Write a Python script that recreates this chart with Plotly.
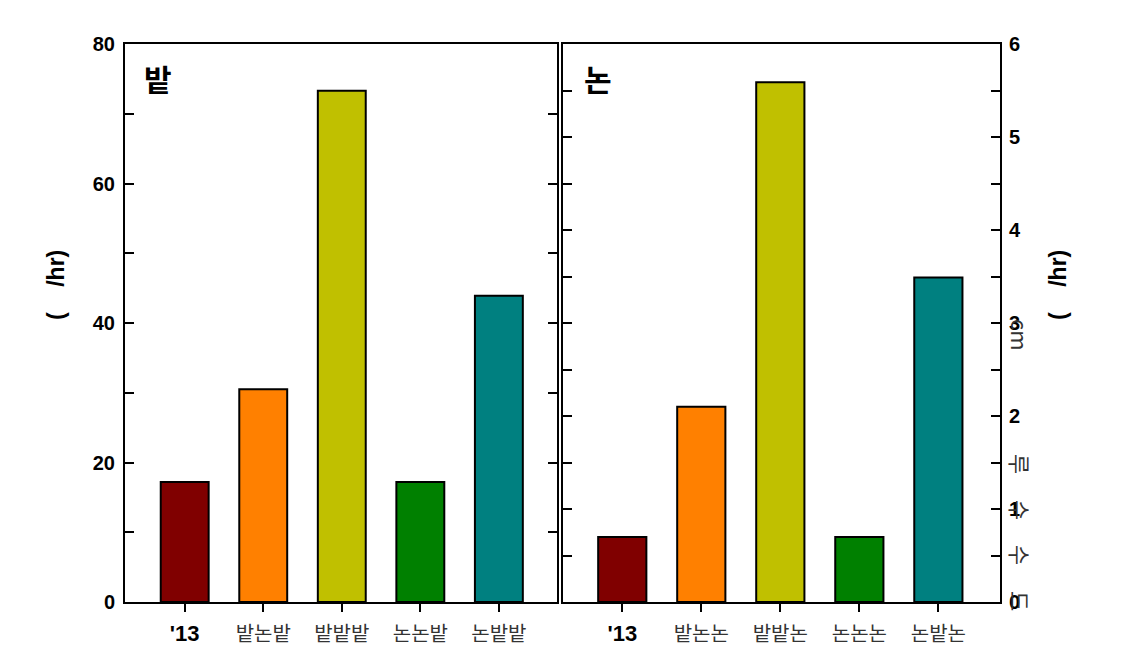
import plotly.graph_objects as go

# ---- data ----
cats_left = ["'13", "밭논밭", "밭밭밭", "논논밭", "논밭밭"]
vals_left = [17.2, 30.5, 73.3, 17.2, 43.9]
cats_right = ["'13", "밭논논", "밭밭논", "논논논", "논밭논"]
vals_right = [0.70, 2.10, 5.59, 0.70, 3.49]
bar_colors = ["#800000", "#FF8000", "#C0C000", "#008000", "#008080"]
panel_titles = ["밭", "논"]
y_title = "(\u00a0\u00a0\u00a0\u00a0/hr)"


def fmt_ticks(cats):
    out = []
    for c in cats:
        if c.startswith("'"):
            out.append('<b><span style="font-size:22px">' + c + "</span></b>")
        else:
            out.append('<span style="color:#333333">' + c + "</span>")
    return out


W, H = 1125, 657
def px(x):
    return x / W
def py(y):
    return (H - y) / H

fig = go.Figure()
fig.add_trace(go.Bar(x=list(range(len(cats_left))), y=vals_left, width=0.61,
                     marker=dict(color=bar_colors, line=dict(color="black", width=2)),
                     xaxis="x", yaxis="y", showlegend=False))
fig.add_trace(go.Bar(x=list(range(len(cats_right))), y=vals_right, width=0.61,
                     marker=dict(color=bar_colors, line=dict(color="black", width=2)),
                     xaxis="x2", yaxis="y2", showlegend=False))

tickfont_num = dict(family="Liberation Sans", size=20, color="black", weight="bold")
xtickfont = dict(family="Liberation Sans, Noto Sans CJK KR", size=20, color="black")

common_x = dict(showline=True, linecolor="black", linewidth=2, mirror=True,
                ticks="outside", ticklen=8, tickwidth=2, tickcolor="black", automargin=False,
                showgrid=False, zeroline=False, tickfont=xtickfont, ticklabelstandoff=5)
common_y = dict(showline=True, linecolor="black", linewidth=2, mirror="ticks",
                ticks="inside", ticklen=9, tickwidth=2, tickcolor="black", automargin=False,
                showgrid=False, zeroline=False, tickfont=tickfont_num)

fig.update_layout(
    width=W, height=H, margin=dict(l=0, r=0, t=0, b=0, autoexpand=False),
    paper_bgcolor="white", plot_bgcolor="white",
    xaxis=dict(domain=[px(125), px(557)], range=[-0.76, 4.74], anchor="y",
               tickvals=list(range(5)), ticktext=fmt_ticks(cats_left), **common_x),
    yaxis=dict(domain=[py(602), py(44)], range=[0, 80], anchor="x", dtick=20, tick0=0,
               ticklabelstandoff=4,
               minor=dict(dtick=10, ticks="inside", ticklen=9, tickwidth=2, tickcolor="black"),
               **common_y),
    xaxis2=dict(domain=[px(563), px(1000)], range=[-0.75, 4.78], anchor="y2",
                tickvals=list(range(5)), ticktext=fmt_ticks(cats_right), **common_x),
    yaxis2=dict(domain=[py(602), py(44)], range=[0, 6], anchor="x2", side="right", dtick=1, tick0=0,
                ticklabelstandoff=3,
                minor=dict(dtick=0.5, ticks="inside", ticklen=9, tickwidth=2, tickcolor="black"),
                **common_y),
)

ann = []
for t, x in zip(panel_titles, [158, 598]):
    ann.append(dict(text="<b>" + t + "</b>", x=px(x), y=py(78), xref="paper", yref="paper",
                    xanchor="center", yanchor="middle",
                    showarrow=False, font=dict(family="Noto Sans CJK KR", size=30, color="black")))
for x in [56, 1058]:
    ann.append(dict(text="<b>" + y_title + "</b>", x=px(x), y=py(285), xref="paper", yref="paper",
                    xanchor="center", yanchor="middle", textangle=-90, showarrow=False,
                    font=dict(family="Liberation Sans", size=23, color="black")))
# garbled rotated text near right axis
side_chars = [("cm", 335), ("루", 464), ("수", 510), ("수", 555), ("드", 601)]
for ch, y in side_chars:
    ann.append(dict(text=ch, x=px(1021), y=py(y), xref="paper", yref="paper", textangle=90,
                    xanchor="center", yanchor="middle",
                    showarrow=False, font=dict(family="Noto Sans CJK KR", size=22, color="#333333")))
fig.update_layout(annotations=ann)

fig.write_html("out.html")
